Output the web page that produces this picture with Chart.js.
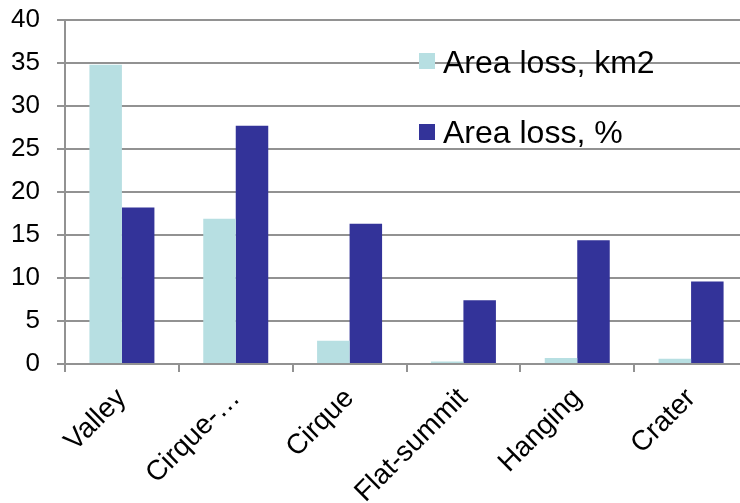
<!DOCTYPE html>
<html>
<head>
<meta charset="utf-8">
<script src="https://cdn.jsdelivr.net/npm/chart.js@4.4.1/dist/chart.umd.min.js"></script>
<style>
  html, body { margin: 0; padding: 0; background: #ffffff; overflow: hidden; width: 740px; height: 503px; }
  #wrap { width: 750px; height: 503px; }
</style>
</head>
<body>
<div id="wrap"><canvas id="c" width="750" height="503"></canvas></div>
<script>
const categories = ["Valley", "Cirque-\u2026", "Cirque", "Flat-summit", "Hanging", "Crater"];
const areaLossKm2 = [34.8, 16.9, 2.7, 0.3, 0.7, 0.6];
const areaLossPct = [18.2, 27.7, 16.3, 7.4, 14.4, 9.6];
const seriesNames = ["Area loss, km2", "Area loss, %"];
const yTicks = [0, 5, 10, 15, 20, 25, 30, 35, 40];

const FONT = "'Liberation Sans', Arial, sans-serif";
const GRID = '#929292';

const legendPlugin = {
  id: 'insideLegend',
  afterDraw(chart) {
    const ctx = chart.ctx;
    const items = [
      { sq: [419, 53], base: 73 },
      { sq: [419, 124], base: 143 }
    ];
    ctx.save();
    ctx.font = '32px ' + FONT;
    ctx.textBaseline = 'alphabetic';
    ctx.textAlign = 'left';
    chart.data.datasets.forEach((ds, i) => {
      const it = items[i];
      ctx.fillStyle = ds.backgroundColor;
      ctx.fillRect(it.sq[0], it.sq[1], 16, 16);
      ctx.fillStyle = '#000000';
      ctx.fillText(ds.label, 443, it.base);
    });
    ctx.restore();
  }
};

new Chart(document.getElementById('c'), {
  type: 'bar',
  data: {
    labels: categories,
    datasets: [
      { label: seriesNames[0], data: areaLossKm2, backgroundColor: '#B7DFE2', borderWidth: 0 },
      { label: seriesNames[1], data: areaLossPct, backgroundColor: '#333399', borderWidth: 0 }
    ]
  },
  options: {
    responsive: false,
    animation: false,
    devicePixelRatio: 1,
    layout: { padding: { top: 20, right: 2, left: 0, bottom: 0 } },
    datasets: { bar: { categoryPercentage: 0.571, barPercentage: 1.0 } },
    plugins: { legend: { display: false }, tooltip: { enabled: false } },
    scales: {
      x: {
        offset: true,
        afterFit(scale) { scale.height = 139; scale.paddingLeft = 0; scale.paddingRight = 0; },
        grid: { offset: true, drawOnChartArea: false, drawTicks: true, tickLength: 8, color: GRID, lineWidth: 2 },
        border: { display: true, color: GRID, width: 2 },
        ticks: {
          color: '#000000',
          font: { family: FONT, size: 28 },
          minRotation: 45, maxRotation: 45,
          autoSkip: false,
          padding: 10
        }
      },
      y: {
        min: 0, max: 40,
        afterFit(scale) { scale.width = 65; scale.paddingTop = 0; scale.paddingBottom = 0; },
        afterBuildTicks(scale) { scale.ticks = yTicks.map(v => ({ value: v })); },
        grid: { drawTicks: true, tickLength: 8, color: GRID, lineWidth: 2 },
        border: { display: true, color: GRID, width: 2 },
        ticks: {
          color: '#000000',
          font: { family: FONT, size: 26 },
          padding: 17
        }
      }
    }
  },
  plugins: [legendPlugin]
});
</script>
</body>
</html>
